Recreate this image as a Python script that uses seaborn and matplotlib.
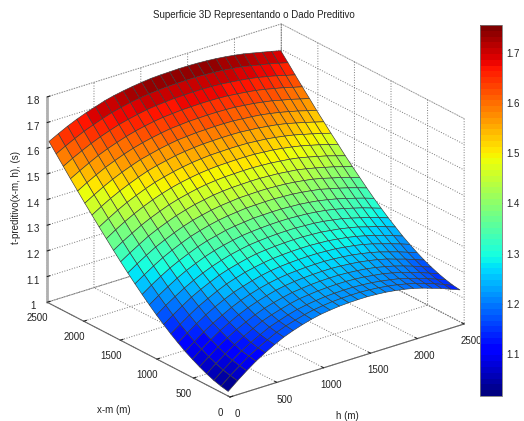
import numpy as np
import matplotlib
matplotlib.use("Agg")
import matplotlib.pyplot as plt
import seaborn as sns
from matplotlib.colors import Normalize
from matplotlib.cm import ScalarMappable
from mpl_toolkits.mplot3d import proj3d

h_m = [0, 99, 198, 297, 396, 495, 594, 693, 792, 891, 990, 1089, 1188, 1287, 1386, 1485,
       1584, 1683, 1782, 1881, 1980, 2079, 2178, 2277, 2376, 2475]
x_m = [25, 123, 221, 319, 417, 515, 613, 711, 809, 907, 1005, 1103, 1201, 1299, 1397, 1495,
       1593, 1691, 1789, 1887, 1985, 2083, 2181, 2279, 2377, 2475]
t_preditivo = [
 [1.018,1.048,1.076,1.102,1.124,1.144,1.162,1.176,1.188,1.198,1.206,1.211,1.215,1.217,1.218,1.218,1.216,1.213,1.208,1.202,1.194,1.184,1.172,1.160,1.146,1.132],
 [1.024,1.054,1.081,1.107,1.128,1.148,1.166,1.180,1.191,1.201,1.209,1.214,1.218,1.220,1.221,1.221,1.219,1.216,1.211,1.205,1.197,1.188,1.176,1.164,1.150,1.136],
 [1.032,1.061,1.088,1.113,1.135,1.154,1.172,1.185,1.197,1.207,1.214,1.219,1.223,1.225,1.226,1.226,1.224,1.221,1.216,1.210,1.203,1.193,1.181,1.170,1.156,1.143],
 [1.043,1.072,1.098,1.123,1.144,1.163,1.181,1.194,1.205,1.215,1.223,1.227,1.231,1.233,1.234,1.234,1.232,1.229,1.224,1.219,1.211,1.202,1.190,1.179,1.165,1.152],
 [1.056,1.084,1.111,1.135,1.156,1.174,1.191,1.205,1.216,1.225,1.233,1.237,1.241,1.243,1.244,1.244,1.242,1.239,1.235,1.229,1.221,1.212,1.201,1.189,1.176,1.163],
 [1.071,1.099,1.125,1.149,1.169,1.188,1.204,1.217,1.228,1.238,1.245,1.250,1.253,1.255,1.256,1.256,1.254,1.251,1.247,1.241,1.234,1.225,1.213,1.202,1.189,1.176],
 [1.087,1.114,1.140,1.163,1.183,1.202,1.218,1.231,1.242,1.251,1.258,1.263,1.266,1.268,1.269,1.269,1.267,1.264,1.260,1.254,1.247,1.238,1.227,1.216,1.203,1.191],
 [1.106,1.133,1.158,1.181,1.201,1.219,1.235,1.247,1.258,1.267,1.274,1.279,1.282,1.284,1.285,1.285,1.283,1.281,1.276,1.271,1.264,1.255,1.244,1.233,1.221,1.208],
 [1.126,1.152,1.177,1.200,1.219,1.237,1.253,1.265,1.276,1.284,1.291,1.296,1.299,1.301,1.302,1.302,1.300,1.298,1.293,1.288,1.281,1.272,1.262,1.251,1.239,1.226],
 [1.148,1.174,1.198,1.221,1.240,1.257,1.273,1.285,1.295,1.304,1.311,1.315,1.318,1.320,1.321,1.321,1.319,1.317,1.312,1.307,1.300,1.292,1.281,1.271,1.259,1.247],
 [1.171,1.197,1.220,1.242,1.261,1.278,1.293,1.305,1.316,1.324,1.331,1.335,1.338,1.340,1.341,1.341,1.339,1.337,1.333,1.327,1.321,1.312,1.302,1.292,1.280,1.268],
 [1.196,1.221,1.244,1.266,1.285,1.301,1.316,1.328,1.338,1.346,1.353,1.357,1.360,1.362,1.363,1.363,1.361,1.359,1.355,1.350,1.343,1.335,1.325,1.315,1.303,1.291],
 [1.222,1.247,1.270,1.291,1.309,1.325,1.340,1.352,1.361,1.370,1.376,1.380,1.384,1.385,1.386,1.386,1.384,1.382,1.378,1.373,1.366,1.358,1.348,1.338,1.327,1.315],
 [1.249,1.273,1.296,1.317,1.335,1.351,1.366,1.377,1.387,1.395,1.401,1.405,1.409,1.410,1.411,1.411,1.409,1.407,1.403,1.398,1.392,1.383,1.374,1.364,1.353,1.341],
 [1.277,1.301,1.323,1.344,1.361,1.377,1.391,1.403,1.412,1.420,1.426,1.430,1.434,1.435,1.436,1.436,1.434,1.432,1.428,1.423,1.417,1.409,1.399,1.390,1.379,1.368],
 [1.306,1.329,1.351,1.372,1.389,1.404,1.418,1.429,1.439,1.446,1.453,1.457,1.460,1.461,1.462,1.462,1.460,1.458,1.454,1.450,1.443,1.435,1.426,1.417,1.406,1.395],
 [1.336,1.359,1.380,1.400,1.417,1.432,1.446,1.457,1.466,1.474,1.480,1.484,1.487,1.488,1.489,1.489,1.487,1.485,1.481,1.477,1.471,1.463,1.454,1.445,1.434,1.423],
 [1.367,1.390,1.411,1.430,1.447,1.462,1.475,1.486,1.495,1.502,1.508,1.512,1.515,1.516,1.517,1.517,1.516,1.513,1.510,1.505,1.499,1.492,1.483,1.474,1.463,1.453],
 [1.398,1.420,1.441,1.460,1.476,1.491,1.504,1.514,1.523,1.530,1.536,1.540,1.543,1.544,1.545,1.545,1.544,1.541,1.538,1.533,1.527,1.520,1.511,1.502,1.492,1.482],
 [1.430,1.452,1.472,1.490,1.506,1.521,1.534,1.544,1.552,1.560,1.565,1.569,1.572,1.573,1.574,1.574,1.573,1.570,1.567,1.562,1.557,1.550,1.541,1.532,1.522,1.512],
 [1.462,1.483,1.503,1.521,1.537,1.551,1.564,1.573,1.582,1.589,1.595,1.598,1.601,1.602,1.603,1.603,1.602,1.599,1.596,1.592,1.586,1.579,1.571,1.562,1.552,1.542],
 [1.495,1.516,1.535,1.553,1.568,1.582,1.594,1.604,1.612,1.619,1.625,1.628,1.631,1.632,1.633,1.633,1.632,1.630,1.626,1.622,1.616,1.610,1.601,1.593,1.583,1.574],
 [1.528,1.548,1.567,1.585,1.600,1.613,1.625,1.635,1.643,1.650,1.655,1.658,1.661,1.662,1.663,1.663,1.662,1.660,1.656,1.652,1.647,1.640,1.632,1.624,1.614,1.605],
 [1.562,1.582,1.600,1.617,1.632,1.645,1.657,1.666,1.674,1.681,1.686,1.689,1.692,1.693,1.694,1.694,1.693,1.691,1.687,1.683,1.678,1.672,1.664,1.656,1.646,1.637],
 [1.596,1.615,1.633,1.650,1.664,1.677,1.689,1.698,1.706,1.712,1.717,1.720,1.723,1.724,1.725,1.725,1.724,1.722,1.719,1.715,1.710,1.703,1.695,1.688,1.679,1.670],
 [1.630,1.649,1.667,1.683,1.697,1.709,1.721,1.730,1.737,1.743,1.748,1.752,1.754,1.755,1.756,1.756,1.755,1.753,1.750,1.746,1.741,1.735,1.727,1.719,1.711,1.702],
]
ground_ticks = [0, 500, 1000, 1500, 2000, 2500]
time_ticks = [1, 1.1, 1.2, 1.3, 1.4, 1.5, 1.6, 1.7, 1.8]
time_labels = ["1", "1.1", "1.2", "1.3", "1.4", "1.5", "1.6", "1.7", "1.8"]
bar_ticks = [1.1, 1.2, 1.3, 1.4, 1.5, 1.6, 1.7]
title = "Superficie 3D Representando o Dado Preditivo"

sns.set_style("white")
plt.rcParams["font.family"] = ["Liberation Sans", "DejaVu Sans"]
plt.rcParams["font.size"] = 7
plt.rcParams["grid.linestyle"] = ":"
plt.rcParams["grid.color"] = "#777777"
plt.rcParams["grid.linewidth"] = 0.7
TXT = "#222222"

W, H_FIG = 524, 421
fig = plt.figure(figsize=(W / 100, H_FIG / 100), dpi=100, facecolor="white")
ax = fig.add_axes([0, 0, 1, 1], projection="3d", proj_type="ortho")
ax.view_init(elev=23.7, azim=-127.8)
ax.set_box_aspect((296, 298, 224))
ax.patch.set_alpha(0)

jet64 = plt.get_cmap("jet", 64)
norm = Normalize(1.016, 1.756)
H, X = np.meshgrid(h_m, x_m)
Z = np.array(t_preditivo)
ax.plot_surface(H, X, Z, rstride=1, cstride=1, cmap=jet64, norm=norm,
                edgecolor="#3a3a3a", linewidth=0.45, shade=False, antialiased=True)

ax.set_xlim(0, 2500)
ax.set_ylim(0, 2500)
ax.set_zlim(1, 1.8)
ax.set_xticks(ground_ticks)
ax.set_yticks(ground_ticks)
ax.set_zticks(time_ticks)
ax.set_xticklabels([str(v) for v in ground_ticks])
ax.set_yticklabels([str(v) for v in ground_ticks])
ax.set_zticklabels(time_labels)
ax.tick_params(axis="both", labelsize=7, colors=TXT, pad=0)
ax.tick_params(axis="x", pad=-1)
ax.tick_params(axis="y", pad=-1)
ax.tick_params(axis="z", pad=-2)
for axis in (ax.xaxis, ax.yaxis, ax.zaxis):
    axis.pane.set_facecolor((1, 1, 1, 0))
    axis.pane.set_edgecolor("#777777")
    axis.pane.set_linestyle(":")
    axis.pane.set_linewidth(0.7)
    axis._axinfo["tick"]["color"] = "#555555"
    axis._axinfo["tick"]["inward_factor"] = 0.0
    axis._axinfo["tick"]["outward_factor"] = 0.15
ax.xaxis.line.set_color("#666666")
ax.yaxis.line.set_color("#666666")
ax.xaxis.line.set_linewidth(0.8)
ax.yaxis.line.set_linewidth(0.8)
ax.zaxis.line.set_color("#b0b0b0")
ax.zaxis.line.set_linewidth(2.0)


def corner(h, x, z):
    xs, ys, _ = proj3d.proj_transform(h, x, z, ax.get_proj())
    return ax.transData.transform((xs, ys))


# fit the 3-D box to the reference's screen corners (pixels, y measured from the top)
target_front = np.array([230.0, H_FIG - 397.0])
size = 500.0
ax.set_position([0, 0, size / W, size / H_FIG])
fig.canvas.draw()
size *= 417.0 / (corner(2500, 0, 1)[0] - corner(0, 2500, 1)[0])
ax.set_position([0, 0, size / W, size / H_FIG])
fig.canvas.draw()
shift = target_front - corner(0, 0, 1)
ax.set_position([shift[0] / W, shift[1] / H_FIG, size / W, size / H_FIG])

fig.text(254 / W, 1 - 15 / H_FIG, title, ha="center", va="center", fontsize=7, color=TXT)
fig.text(114 / W, 1 - 410 / H_FIG, "x-m (m)", ha="center", va="center", fontsize=7, color=TXT)
fig.text(347 / W, 1 - 416 / H_FIG, "h (m)", ha="center", va="center", fontsize=7, color=TXT)
fig.text(16 / W, 1 - 197 / H_FIG, "t-preditivo(x-m, h), (s)", ha="center", va="center",
         rotation=90, fontsize=7, color=TXT)

cax = fig.add_axes([480 / W, 1 - 396 / H_FIG, 22 / W, 371 / H_FIG])
cb = fig.colorbar(ScalarMappable(norm=norm, cmap=jet64), cax=cax, ticks=bar_ticks)
cb.ax.tick_params(axis="y", direction="in", left=True, right=True, length=3, width=0.6,
                  color="#333333", labelsize=7, labelcolor=TXT, pad=3)
cb.ax.set_yticklabels([f"{v:.1f}" for v in bar_ticks])
cb.outline.set_edgecolor("#777777")
cb.outline.set_linewidth(0.6)

fig.savefig("out.png", dpi=100, facecolor="white")
